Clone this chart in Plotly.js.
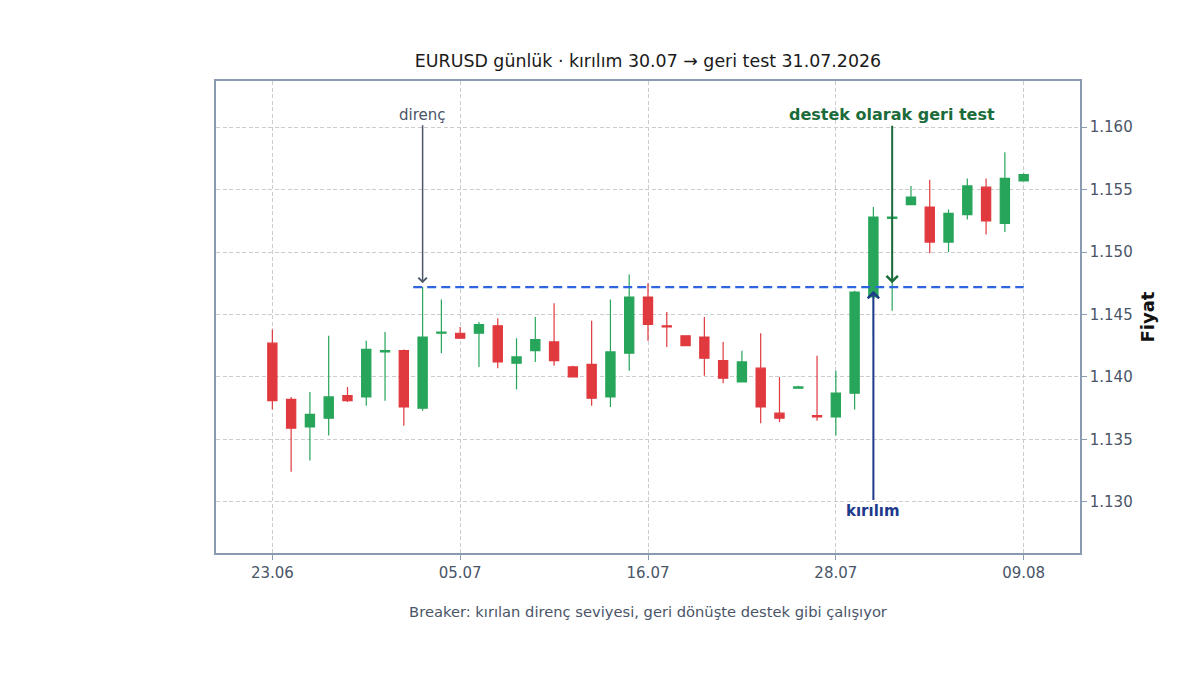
<!DOCTYPE html>
<html>
<head>
<meta charset="utf-8">
<script src="https://cdn.plot.ly/plotly-3.0.1.min.js"></script>
<style>
    html, body { margin: 0; padding: 0; background: #ffffff; }
    #chart { width: 1200px; height: 675px; }
</style>
</head>
<body>
<div id="chart"></div>
<script>
// daily candles
const dates = [
    '23.06', '24.06', '25.06', '26.06', '29.06', '30.06', '01.07', '02.07', '03.07', '04.07',
    '05.07', '06.07', '07.07', '08.07', '09.07', '10.07', '11.07', '13.07', '14.07', '15.07',
    '16.07', '17.07', '18.07', '20.07', '21.07', '22.07', '23.07', '24.07', '25.07', '27.07',
    '28.07', '29.07', '30.07', '31.07', '01.08', '03.08', '04.08', '05.08', '06.08', '08.08',
    '09.08'
];
const opens = [
    1.1427, 1.1382, 1.1360, 1.1367, 1.1385, 1.1384, 1.1420, 1.1421, 1.1375, 1.1435,
    1.1435, 1.1435, 1.1441, 1.1411, 1.1421, 1.1428, 1.1408, 1.1410, 1.1384, 1.1419,
    1.1464, 1.1441, 1.1433, 1.1432, 1.1413, 1.1396, 1.1407, 1.1371, 1.1391, 1.1369,
    1.1368, 1.1387, 1.1464, 1.1527, 1.1538, 1.1536, 1.1508, 1.1530, 1.1552, 1.1523,
    1.1557
];
const highs = [
    1.1438, 1.1384, 1.1388, 1.1433, 1.1392, 1.1429, 1.1436, 1.1422, 1.1472, 1.1462,
    1.1440, 1.1444, 1.1447, 1.1431, 1.1448, 1.1459, 1.1409, 1.1445, 1.1462, 1.1482,
    1.1475, 1.1452, 1.1433, 1.1448, 1.1428, 1.1421, 1.1435, 1.1400, 1.1393, 1.1417,
    1.1405, 1.1469, 1.1536, 1.1531, 1.1553, 1.1558, 1.1534, 1.1559, 1.1559, 1.1580,
    1.1563
];
const lows = [
    1.1374, 1.1324, 1.1333, 1.1353, 1.1380, 1.1377, 1.1381, 1.1361, 1.1373, 1.1419,
    1.1431, 1.1408, 1.1407, 1.1390, 1.1412, 1.1409, 1.1400, 1.1377, 1.1376, 1.1405,
    1.1429, 1.1424, 1.1425, 1.1401, 1.1395, 1.1396, 1.1363, 1.1364, 1.1391, 1.1365,
    1.1353, 1.1374, 1.1432, 1.1453, 1.1538, 1.1499, 1.1500, 1.1526, 1.1514, 1.1516,
    1.1557
];
const closes = [
    1.1381, 1.1359, 1.1370, 1.1384, 1.1381, 1.1422, 1.1421, 1.1376, 1.1432, 1.1436,
    1.1431, 1.1442, 1.1412, 1.1416, 1.1430, 1.1413, 1.1400, 1.1383, 1.1420, 1.1464,
    1.1442, 1.1440, 1.1425, 1.1415, 1.1399, 1.1412, 1.1376, 1.1367, 1.1392, 1.1368,
    1.1387, 1.1468, 1.1528, 1.1528, 1.1544, 1.1508, 1.1531, 1.1553, 1.1525, 1.1559,
    1.1562
];

const tickDates = ['23.06', '05.07', '16.07', '28.07', '09.08'];

// broken resistance level and the candles that matter
const resistanceLevel = 1.1472;
const resistanceFrom = 7.5;   // candle index where the level starts
const resistanceTo = 40;
const touchIndex = 8;         // 'direnç' touch
const breakIndex = 32;        // 30.07
const retestIndex = 33;       // 31.07

const green = '#27a55a';
const red = '#e0393e';
const axisGrey = '#8a9ab0';
const textGrey = '#4a5568';
const gridGrey = '#cccccc';
const fontFamily = '"DejaVu Sans", Verdana, sans-serif';

let data = [{
    type: 'candlestick',
    x: dates,
    open: opens,
    high: highs,
    low: lows,
    close: closes,
    increasing: { line: { color: green, width: 1.2 }, fillcolor: green },
    decreasing: { line: { color: red, width: 1.2 }, fillcolor: red },
    whiskerwidth: 0,
    showlegend: false,
    hoverinfo: 'x+y'
}];

let layout = {
    width: 1200,
    height: 675,
    paper_bgcolor: '#ffffff',
    plot_bgcolor: '#ffffff',
    font: { family: fontFamily, color: textGrey, size: 15 },
    margin: { l: 216, r: 120, t: 81, b: 122 },
    showlegend: false,
    title: {
        text: 'EURUSD günlük · kırılım 30.07 → geri test 31.07.2026',
        font: { family: fontFamily, size: 17.4, color: '#1a1a1a' },
        x: 0.54,
        xanchor: 'center',
        y: 1 - 61 / 675,
        yref: 'container',
        yanchor: 'middle'
    },
    xaxis: {
        type: 'category',
        range: [-3, 43],
        tickvals: tickDates,
        ticktext: tickDates,
        ticks: 'outside',
        ticklen: 5,
        tickcolor: axisGrey,
        tickfont: { size: 15, color: textGrey },
        showline: true,
        mirror: true,
        linecolor: axisGrey,
        linewidth: 1.5,
        showgrid: true,
        gridcolor: gridGrey,
        griddash: '4px,2.5px',
        gridwidth: 1,
        zeroline: false,
        rangeslider: { visible: false },
        title: {
            text: 'Breaker: kırılan direnç seviyesi, geri dönüşte destek gibi çalışıyor',
            font: { size: 14.7, color: textGrey },
            standoff: 26
        }
    },
    yaxis: {
        side: 'right',
        range: [1.1259, 1.1637],
        tickvals: [1.130, 1.135, 1.140, 1.145, 1.150, 1.155, 1.160],
        tickformat: '.3f',
        ticks: 'outside',
        ticklen: 5,
        tickcolor: axisGrey,
        tickfont: { size: 15, color: textGrey },
        showline: true,
        mirror: true,
        linecolor: axisGrey,
        linewidth: 1.5,
        showgrid: true,
        gridcolor: gridGrey,
        griddash: '4px,2.5px',
        gridwidth: 1,
        zeroline: false,
        title: {
            text: '<b>Fiyat</b>',
            font: { size: 18, color: '#111111' },
            standoff: 10
        }
    },
    shapes: [{
        type: 'line',
        xref: 'x',
        yref: 'y',
        x0: resistanceFrom,
        x1: resistanceTo,
        y0: resistanceLevel,
        y1: resistanceLevel,
        line: { color: '#2f66e0', width: 2.2, dash: '9px,5px' }
    }],
    annotations: [
        {
            x: touchIndex, y: resistanceLevel + 0.0003,
            xref: 'x', yref: 'y',
            ax: touchIndex, ay: 1.1610,
            axref: 'x', ayref: 'y',
            text: 'direnç',
            showarrow: true,
            arrowhead: 4, arrowsize: 1.1, arrowwidth: 1.5,
            arrowcolor: textGrey,
            font: { size: 15, color: textGrey }
        },
        {
            x: retestIndex, y: resistanceLevel + 0.0003,
            xref: 'x', yref: 'y',
            ax: retestIndex, ay: 1.1610,
            axref: 'x', ayref: 'y',
            text: '<b>destek olarak geri test</b>',
            showarrow: true,
            arrowhead: 4, arrowsize: 1.1, arrowwidth: 2,
            arrowcolor: '#1b6b3b',
            font: { size: 16, color: '#1b6b3b' }
        },
        {
            x: breakIndex, y: resistanceLevel - 0.0003,
            xref: 'x', yref: 'y',
            ax: breakIndex, ay: 1.1293,
            axref: 'x', ayref: 'y',
            text: '<b>kırılım</b>',
            showarrow: true,
            arrowhead: 4, arrowsize: 1.1, arrowwidth: 2,
            arrowcolor: '#1e3a8a',
            font: { size: 15, color: '#1e3a8a' }
        }
    ]
};

Plotly.newPlot('chart', data, layout, { displayModeBar: false, responsive: false });
</script>
</body>
</html>
